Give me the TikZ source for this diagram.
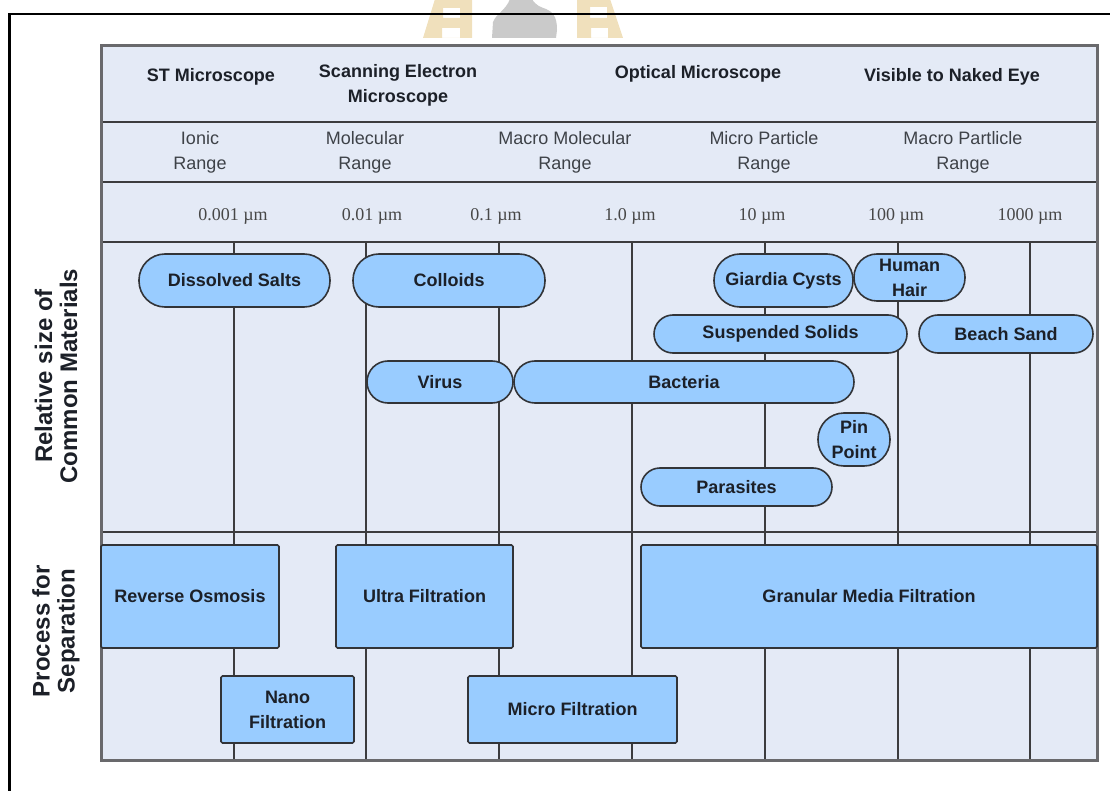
\documentclass[tikz,border=0pt]{standalone}
\usepackage{fontspec}
\setmainfont{Liberation Sans}
\newfontfamily\numfont{Liberation Serif}
\definecolor{gridbg}{RGB}{228,234,246}
\definecolor{pillblue}{RGB}{153,204,255}
\definecolor{edge}{RGB}{50,52,56}
\definecolor{rule}{RGB}{60,60,62}
\definecolor{border}{RGB}{105,105,108}
\definecolor{ink}{RGB}{28,32,40}
\definecolor{tan}{RGB}{240,224,188}
\definecolor{stone}{RGB}{202,202,202}
\begin{document}
\begin{tikzpicture}[x=1pt,y=-1pt,
  pill/.style={draw=edge, fill=pillblue, line width=1.6pt, inner sep=0pt,
    align=center, text=ink, font=\fontsize{18}{25}\selectfont\bfseries},
  procbox/.style={draw=edge, fill=pillblue, line width=1.6pt, rounded corners=1.5pt,
    inner sep=0pt, align=center, text=ink, font=\fontsize{18}{25}\selectfont\bfseries},
  head/.style={align=center, text=ink, inner sep=0pt,
    font=\fontsize{18}{25}\selectfont\bfseries},
  rangelbl/.style={align=center, text=ink!85, inner sep=0pt,
    font=\fontsize{18}{25}\selectfont},
  scalelbl/.style={text=black!72, inner sep=0pt,
    font=\numfont\fontsize{18}{22}\selectfont},
  side/.style={rotate=90, align=center, text=ink, inner sep=0pt,
    font=\fontsize{24}{25}\selectfont\bfseries},
]
\useasboundingbox (0,0) rectangle (1110,791);

% logo in the top margin
\fill[tan, even odd rule] (423,38) -- (435,-1) -- (472,-1) -- (472,38) -- cycle
  (443,8) rectangle (460,18) (442,28) rectangle (460,38);
\fill[tan, even odd rule] (577,-1) -- (610,-1) -- (623,38) -- (577,38) -- cycle
  (590,7) rectangle (607,18) (591,28) rectangle (608,38);
\fill[stone] (510,-1) -- (532,-1) .. controls (536,6) and (541,7) .. (546,9)
  .. controls (556,13) and (557,22) .. (557,30) -- (556,38) -- (492,38)
  -- (493,22) .. controls (496,14) and (506,10) .. (510,-1) -- cycle;

% outer frame
\draw[line width=2.4pt] (9.5,800) -- (9.5,14) -- (1120,14);

% table body
\fill[gridbg] (101,46) rectangle (1097,760);
\foreach \x in {234,366,499,632,765,898,1030}
  \draw[rule, line width=2.2pt] (\x,242) -- (\x,760);
\foreach \y in {122,182,242,532}
  \draw[rule, line width=2.6pt] (101,\y) -- (1097,\y);
\draw[border, line width=3pt] (101,46) rectangle (1097,760);

% instruments
\node[head] (st)  at (211,77) {ST Microscope};
\node[head] (sem) at (398,85) {Scanning Electron\\Microscope};
\node[head] (opt) at (698,74) {Optical Microscope};
\node[head] (eye) at (952,77) {Visible to Naked Eye};

% size ranges
\node[rangelbl] (r1) at (200,152.5) {Ionic\\Range};
\node[rangelbl] (r2) at (365,152.5) {Molecular\\Range};
\node[rangelbl] (r3) at (565,152.5) {Macro Molecular\\Range};
\node[rangelbl] (r4) at (764,152.5) {Micro Particle\\Range};
\node[rangelbl] (r5) at (963,152.5) {Macro Partlicle\\Range};

% scale
\node[scalelbl] (s1) at (233,216) {0.001 µm};
\node[scalelbl] (s2) at (372,216) {0.01 µm};
\node[scalelbl] (s3) at (496,216) {0.1 µm};
\node[scalelbl] (s4) at (630,216) {1.0 µm};
\node[scalelbl] (s5) at (762,216) {10 µm};
\node[scalelbl] (s6) at (896,216) {100 µm};
\node[scalelbl] (s7) at (1030,216) {1000 µm};

% side headings
\node[side] (relsize) at (56,376) {Relative size of\\Common Materials};
\node[side] (procsep) at (56,631) {Process for\\Separation};

% common materials
\node[pill, rounded corners=26pt, minimum width=191pt, minimum height=53pt] (ds)  at (234.5,280.5) {Dissolved Salts};
\node[pill, rounded corners=26pt, minimum width=192pt, minimum height=53pt] (col) at (449,280.5) {Colloids};
\node[pill, rounded corners=26pt, minimum width=139pt, minimum height=53pt] (gc)  at (783.5,280.5) {Giardia Cysts};
\node[pill, rounded corners=23pt, minimum width=111pt, minimum height=47pt] (hh)  at (909.5,277.5) {Human\\Hair};
\node[pill, rounded corners=19pt, minimum width=253pt, minimum height=38pt] (ss)  at (780.5,334) {Suspended Solids};
\node[pill, rounded corners=19pt, minimum width=174pt, minimum height=38pt] (bs)  at (1006,334) {Beach Sand};
\node[pill, rounded corners=21pt, minimum width=146pt, minimum height=42pt] (vir) at (440,382) {Virus};
\node[pill, rounded corners=21pt, minimum width=340pt, minimum height=42pt] (bac) at (684,382) {Bacteria};
\node[pill, rounded corners=26pt, minimum width=72pt,  minimum height=53pt] (pp)  at (854,439.5) {Pin\\Point};
\node[pill, rounded corners=19pt, minimum width=191pt, minimum height=38pt] (par) at (736.5,487) {Parasites};

% separation processes
\node[procbox, minimum width=178pt, minimum height=103pt] (ro)  at (190,596.5) {Reverse Osmosis};
\node[procbox, minimum width=177pt, minimum height=103pt] (uf)  at (424.5,596.5) {Ultra Filtration};
\node[procbox, minimum width=456pt, minimum height=103pt] (gmf) at (869,596.5) {Granular Media Filtration};
\node[procbox, minimum width=133pt, minimum height=67pt]  (nf)  at (287.5,709.5) {Nano\\Filtration};
\node[procbox, minimum width=209pt, minimum height=67pt]  (mf)  at (572.5,709.5) {Micro Filtration};
\end{tikzpicture}
\end{document}
